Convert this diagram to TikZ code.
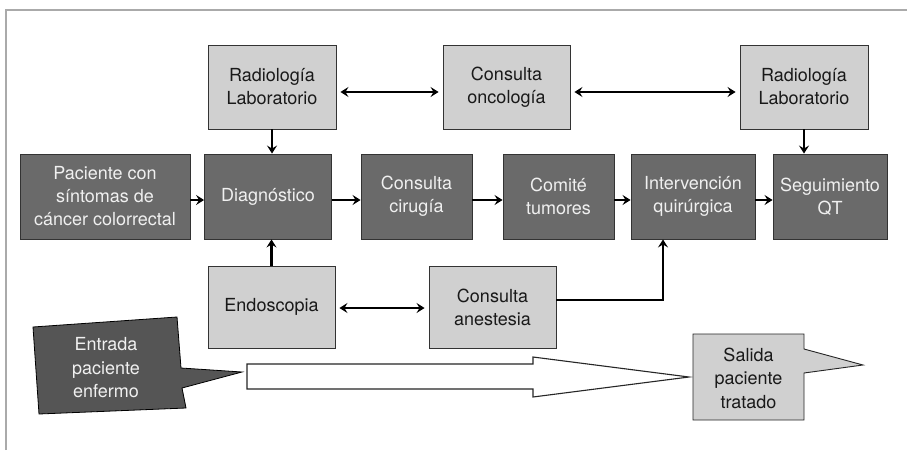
\documentclass[tikz,border=0pt]{standalone}
\usepackage{fontspec}
\setmainfont{TeX Gyre Heros}
\usetikzlibrary{arrows.meta,positioning}
\definecolor{frameg}{HTML}{AAAAAA}
\definecolor{darkbox}{HTML}{6A6A6A}
\definecolor{lightbox}{HTML}{D0D0D0}
\definecolor{calloutdark}{HTML}{555555}
\definecolor{darktext}{HTML}{F0F0F0}
\tikzset{
  base/.style={rectangle, draw=black!80, line width=0.9pt, align=center,
    font=\fontsize{18}{23}\selectfont, inner sep=2pt},
  dbox/.style={base, fill=darkbox, text=darktext, minimum height=85pt},
  lbox/.style={base, fill=lightbox, text=black!90, minimum height=84pt},
  tip/.style={Stealth[length=8pt,width=10pt,inset=3pt]},
  flow/.style={line width=2.5pt, -{Stealth[length=8pt,width=10pt,inset=3pt]}},
  both/.style={line width=2.5pt, {Stealth[length=8pt,width=10pt,inset=3pt]}-{Stealth[length=8pt,width=10pt,inset=3pt]},
    shorten >=4pt, shorten <=4pt},
  label/.style={align=center, font=\fontsize{18}{23.5}\selectfont}
}
\begin{document}
\begin{tikzpicture}[x=1pt,y=-1pt]
\useasboundingbox (0,0) rectangle (907,450);
\fill[white] (0,0) rectangle (907,450);
% frame
\draw[frameg, line width=2.5pt] (6,450) -- (6,10) -- (907,10);

% top row
\node[lbox, minimum width=128pt] (rad1) at (272,87) {Radiología\\Laboratorio};
\node[lbox, minimum width=127pt] (onc) at (506.5,87) {Consulta\\oncología};
\node[lbox, minimum width=128pt] (rad2) at (804,87) {Radiología\\Laboratorio};

% main row
\node[dbox, minimum width=170pt] (pac) at (105,196.5) {Paciente con\\síntomas de\\cáncer colorrectal};
\node[dbox, minimum width=127pt] (diag) at (268,196.5) {Diagnóstico};
\node[dbox, minimum width=111pt] (cir) at (416.5,196.5) {Consulta\\cirugía};
\node[dbox, minimum width=111pt] (com) at (558.5,196.5) {Comité\\tumores};
\node[dbox, minimum width=124pt] (int) at (693,196.5) {Intervención\\quirúrgica};
\node[dbox, minimum width=114pt] (seg) at (830,196.5) {Seguimiento\\QT};

% bottom row
\node[lbox, minimum width=127pt, minimum height=82pt] (endo) at (271.5,307) {Endoscopia};
\node[lbox, minimum width=127pt, minimum height=82pt] (ane) at (492.5,307) {Consulta\\anestesia};

% connectors
\draw[both] ([yshift=-5pt]rad1.east) -- ([yshift=-5pt]onc.west);
\draw[both] ([yshift=-5pt]onc.east) -- ([yshift=-5pt]rad2.west);
\draw[both] ([yshift=-1pt]endo.east) -- ([yshift=-1pt]ane.west);

\draw[flow] (rad1.south) -- (rad1.south |- diag.north);
\draw[flow] (rad2.south) -- (rad2.south |- seg.north);
\draw[flow] (endo.north) -- (endo.north |- diag.south);

\draw[flow] ([yshift=-3.5pt]pac.east) -- ([yshift=-3.5pt]diag.west);
\draw[flow] ([yshift=-3.5pt]diag.east) -- ([yshift=-3.5pt]cir.west);
\draw[flow] ([yshift=-3.5pt]cir.east) -- ([yshift=-3.5pt]com.west);
\draw[flow] ([yshift=-3.5pt]com.east) -- ([yshift=-3.5pt]int.west);
\draw[flow] ([yshift=-3.5pt]int.east) -- ([yshift=-3.5pt]seg.west);

\draw[flow] ([yshift=7pt]ane.east) -| ([xshift=-30pt]int.south);

% entry callout
\draw[fill=calloutdark, draw=black, line width=0.8pt]
  (33,327) -- (177,317) -- (181,368) -- (242,372) -- (182,388) -- (186,408) -- (39,414) -- cycle;
\node[label, text=darktext] (entrada) at (106,368) {Entrada\\paciente\\enfermo};

% large progress arrow
\draw[fill=white, draw=black!85, line width=1.1pt]
  (247,364) -- (533,364) -- (533,357) -- (689,377) -- (533,397) -- (533,389) -- (247,389) -- cycle;

% exit callout
\draw[fill=lightbox, draw=black!85, line width=0.9pt]
  (693,334) -- (804,334) -- (804,349) -- (863,365) -- (804,373) -- (804,420) -- (693,420) -- cycle;
\node[label, text=black!90] (salida) at (748.5,378) {Salida\\paciente\\tratado};
\end{tikzpicture}
\end{document}
